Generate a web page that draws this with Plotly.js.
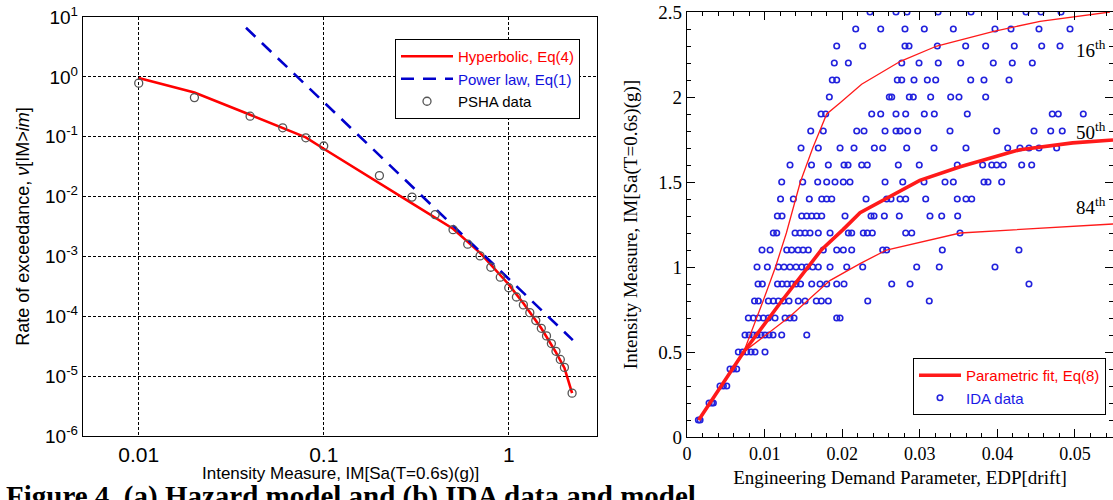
<!DOCTYPE html>
<html>
<head>
<meta charset="utf-8">
<script src="https://cdn.plot.ly/plotly-3.0.1.min.js"></script>
<style>html,body{margin:0;padding:0;background:#fff;}#chart{width:1113px;height:500px;}</style>
</head>
<body>
<div id="chart"></div>
<script>
// ---------- (a) Hazard model ----------
const hypX = [0.01, 0.02, 0.04, 0.06, 0.08, 0.1, 0.2, 0.3, 0.5, 0.7, 1.0, 1.2, 1.5, 1.8, 2.0, 2.2];
const hypY = [0.96, 0.548, 0.233, 0.139, 0.0975, 0.063, 0.0164, 0.0077, 0.0029, 0.00115, 0.00034, 0.000165, 0.000063, 0.000025, 0.0000137, 0.0000052];
const powX = [0.038, 2.22];
const powY = [6.6, 0.00004];
const pshaX = [0.01, 0.02, 0.04, 0.06, 0.08, 0.1, 0.2, 0.3, 0.4, 0.5, 0.6, 0.7, 0.8, 0.9, 1.0, 1.1, 1.2, 1.3, 1.4, 1.5, 1.6, 1.7, 1.8, 1.9, 2.0, 2.2];
const pshaY = [0.785, 0.45, 0.22, 0.141, 0.096, 0.07, 0.0224, 0.0098, 0.005, 0.0028, 0.0016, 0.00102, 0.00066, 0.00045, 0.0003, 0.00021, 0.000155, 0.000115, 0.000085, 0.000063, 0.000047, 0.000035, 0.000026, 0.000019, 0.000014, 0.0000052];
const hazXTicks = [0.01, 0.1, 1];
const hazXTickText = ['0.01', '0.1', '1'];
const hazYTicks = [1e-6, 1e-5, 1e-4, 1e-3, 1e-2, 1e-1, 1, 10];
const hazYTickText = ['10<sup>-6</sup>', '10<sup>-5</sup>', '10<sup>-4</sup>', '10<sup>-3</sup>', '10<sup>-2</sup>', '10<sup>-1</sup>', '10<sup>0</sup>', '10<sup>1</sup>'];

// ---------- (b) IDA data and model ----------
const idaIM = [0.1, 0.2, 0.3, 0.4, 0.5, 0.6, 0.7, 0.8, 0.9, 1.0, 1.1, 1.2, 1.3, 1.4, 1.5, 1.6, 1.7, 1.8, 1.9, 2.0, 2.1, 2.2, 2.3, 2.4, 2.5];
const idaEDP = [
  [0.00146, 0.00168],
  [0.00284, 0.00318, 0.00339],
  [0.00425, 0.00468, 0.00512],
  [0.00554, 0.00597, 0.0064],
  [0.00661, 0.00715, 0.00769, 0.00825, 0.00876, 0.01005],
  [0.00747, 0.00799, 0.00851, 0.00902, 0.00954, 0.01005, 0.01057, 0.01108, 0.0122, 0.01543],
  [0.0079, 0.00854, 0.00919, 0.00983, 0.01048, 0.01134, 0.01263, 0.01327, 0.01379, 0.01929, 0.01972],
  [0.0087, 0.00919, 0.01048, 0.01112, 0.01177, 0.01241, 0.01314, 0.01434, 0.01521, 0.01666, 0.01731, 0.01821, 0.02329, 0.03122],
  [0.00915, 0.0097, 0.01166, 0.01224, 0.01289, 0.01353, 0.01405, 0.01463, 0.01607, 0.01714, 0.018, 0.01929, 0.02023, 0.02638, 0.02874, 0.04407],
  [0.00902, 0.01035, 0.01177, 0.0125, 0.01327, 0.01405, 0.01478, 0.01543, 0.0162, 0.01692, 0.01843, 0.02058, 0.02264, 0.0296, 0.03251, 0.03969],
  [0.00966, 0.0107, 0.01285, 0.01349, 0.0143, 0.01495, 0.01563, 0.01756, 0.01929, 0.02014, 0.02122, 0.02522, 0.02573, 0.0329, 0.04278],
  [0.01112, 0.01156, 0.01392, 0.01456, 0.01521, 0.01585, 0.01692, 0.01843, 0.02079, 0.02122, 0.02272, 0.02323, 0.02388, 0.02818, 0.02896, 0.03518],
  [0.01164, 0.01224, 0.01478, 0.01543, 0.01607, 0.01671, 0.01736, 0.02036, 0.02371, 0.0241, 0.02543, 0.02736, 0.03131, 0.03282, 0.03488],
  [0.01205, 0.0137, 0.01576, 0.01736, 0.018, 0.01865, 0.02307, 0.02573, 0.02629, 0.02745, 0.02818, 0.03076, 0.03483, 0.03595, 0.03669],
  [0.0122, 0.01491, 0.01684, 0.018, 0.01907, 0.02014, 0.021, 0.02552, 0.0278, 0.03054, 0.03325, 0.03432, 0.03827, 0.03879, 0.04055],
  [0.01327, 0.01604, 0.01821, 0.02023, 0.02075, 0.02251, 0.02323, 0.02723, 0.02993, 0.03483, 0.0381, 0.03927, 0.03991, 0.04076, 0.04313, 0.04442],
  [0.01469, 0.01692, 0.01972, 0.02152, 0.02414, 0.02522, 0.02831, 0.03183, 0.03595, 0.04133, 0.04291, 0.04407, 0.04536, 0.04764],
  [0.01594, 0.01756, 0.02187, 0.02281, 0.02552, 0.02693, 0.02745, 0.02844, 0.02973, 0.03389, 0.03991, 0.04472, 0.04687, 0.04836],
  [0.01727, 0.01787, 0.0238, 0.02496, 0.02693, 0.02818, 0.03058, 0.03187, 0.03612, 0.04707, 0.04785, 0.05107],
  [0.01834, 0.02607, 0.02638, 0.02865, 0.02916, 0.0314, 0.03398, 0.03505, 0.03849],
  [0.01872, 0.01929, 0.0271, 0.02767, 0.02925, 0.03097, 0.03205, 0.03656, 0.03827, 0.0415],
  [0.01898, 0.02079, 0.02767, 0.0299, 0.03238, 0.03527, 0.03947, 0.04192, 0.0445],
  [0.01929, 0.02264, 0.02809, 0.02861, 0.03226, 0.03591, 0.03849, 0.04218, 0.04571, 0.04807],
  [0.02174, 0.02496, 0.02809, 0.03058, 0.03432, 0.03969, 0.04175, 0.04536, 0.04936],
  [0.02358, 0.02693, 0.02835, 0.03235, 0.0366, 0.04369, 0.04562, 0.0482]
];
const p16X = [0.0015, 0.0073, 0.0098, 0.0114, 0.0128, 0.0146, 0.0162, 0.018, 0.0197, 0.0225, 0.0275, 0.0322, 0.0394, 0.0455, 0.0545];
const p16Y = [0.1, 0.5, 0.8, 1.0, 1.2, 1.5, 1.7, 1.9, 1.965, 2.075, 2.21, 2.3, 2.385, 2.445, 2.5];
const p50X = [0.0015, 0.0073, 0.0122, 0.0156, 0.0173, 0.0201, 0.0223, 0.03, 0.0352, 0.0429, 0.0497, 0.0549];
const p50Y = [0.1, 0.5, 0.8, 1.0, 1.1, 1.22, 1.32, 1.51, 1.59, 1.69, 1.73, 1.747];
const p84X = [0.0015, 0.0073, 0.0133, 0.0184, 0.0223, 0.0257, 0.0352, 0.0549];
const p84Y = [0.1, 0.5, 0.71, 0.92, 1.02, 1.1, 1.2, 1.253];
const pctLabels = ['16<sup>th</sup>', '50<sup>th</sup>', '84<sup>th</sup>'];
const pctLabelX = [0.05206, 0.05206, 0.05206];
const pctLabelY = [2.28, 1.80, 1.36];

// flatten IDA rows
const idaX = [], idaY = [];
idaEDP.forEach((row, i) => row.forEach(v => { idaX.push(v); idaY.push(idaIM[i]); }));

const sans = 'Liberation Sans, Arial, sans-serif';
const serif = 'Liberation Serif, Times New Roman, serif';

const traces = [
  {x: hypX, y: hypY, xaxis: 'x', yaxis: 'y', mode: 'lines', legend: 'legend', legendrank: 1,
   name: '<span style="color:#ff0000">Hyperbolic, Eq(4)</span>', line: {color: '#ff0000', width: 2.6}},
  {x: powX, y: powY, xaxis: 'x', yaxis: 'y', mode: 'lines', legend: 'legend', legendrank: 2,
   name: '<span style="color:#1010dd">Power law, Eq(1)</span>', line: {color: '#0000cc', width: 2.6, dash: '13px,9px'}},
  {x: pshaX, y: pshaY, xaxis: 'x', yaxis: 'y', mode: 'markers', legend: 'legend', legendrank: 3,
   name: 'PSHA data', marker: {symbol: 'circle-open', size: 8, color: '#555555', line: {width: 1.3, color: '#555555'}}},
  {x: idaX, y: idaY, xaxis: 'x2', yaxis: 'y2', mode: 'markers', legend: 'legend2', legendrank: 2,
   name: '<span style="color:#1a1ae6">IDA data</span>', marker: {symbol: 'circle-open', size: 5.5, color: '#2222dd', line: {width: 1.6, color: '#2222dd'}}},
  {x: p16X, y: p16Y, xaxis: 'x2', yaxis: 'y2', mode: 'lines', showlegend: false, name: '16th',
   line: {color: '#ff1a1a', width: 1.3}},
  {x: p84X, y: p84Y, xaxis: 'x2', yaxis: 'y2', mode: 'lines', showlegend: false, name: '84th',
   line: {color: '#ff1a1a', width: 1.3}},
  {x: p50X, y: p50Y, xaxis: 'x2', yaxis: 'y2', mode: 'lines', legend: 'legend2', legendrank: 1,
   name: '<span style="color:#ff0000">Parametric fit, Eq(8)</span>', line: {color: '#ff1a1a', width: 3.6}}
];

const annotations = pctLabels.map((t, i) => ({
  text: t, x: pctLabelX[i], y: pctLabelY[i], xref: 'x2', yref: 'y2', showarrow: false,
  font: {family: serif, size: 19, color: '#000'}
}));
// x-axis title of panel (a)
annotations.push({
  text: 'Intensity Measure, IM[Sa(T=0.6s)(g)]',
  xref: 'x domain', yref: 'paper', x: 0.5, y: 0.053, xanchor: 'center', yanchor: 'middle', showarrow: false,
  font: {family: sans, size: 17, color: '#000'}
});
// figure caption (cut by the bottom edge, as in the source)
annotations.push({
  text: '<b>Figure 4. (a) Hazard model and (b) IDA data and model</b>',
  xref: 'paper', yref: 'paper', x: 0.004, y: 0.044, xanchor: 'left', yanchor: 'top', showarrow: false,
  font: {family: serif, size: 29, color: '#000'}
});

const layout = {
  width: 1113, height: 500,
  margin: {l: 0, r: 0, t: 0, b: 0},
  paper_bgcolor: '#ffffff', plot_bgcolor: '#ffffff',
  showlegend: true,
  xaxis: {
    type: 'log', domain: [0.0746, 0.5364], range: [Math.log10(0.005), Math.log10(3)], anchor: 'y',
    tickvals: hazXTicks, ticktext: hazXTickText, ticks: '',
    showgrid: true, gridcolor: '#000', gridwidth: 1, griddash: '3px,2px',
    showline: true, mirror: true, linecolor: '#000', linewidth: 1.2, zeroline: false,
    tickfont: {family: sans, size: 21, color: '#000'}
  },
  yaxis: {
    type: 'log', domain: [0.128, 0.966], range: [-6, 1], anchor: 'x',
    tickvals: hazYTicks, ticktext: hazYTickText, ticks: '',
    showgrid: true, gridcolor: '#000', gridwidth: 1, griddash: '3px,2px',
    showline: true, mirror: true, linecolor: '#000', linewidth: 1.2, zeroline: false,
    tickfont: {family: sans, size: 19, color: '#000'},
    title: {text: 'Rate of exceedance, <i>ν</i>[IM&gt;<i>im</i>]', font: {family: sans, size: 18, color: '#000'}, standoff: 10}
  },
  xaxis2: {
    domain: [0.6173, 1], range: [0, 0.0549], anchor: 'y2',
    tick0: 0, dtick: 0.01, ticks: 'inside', ticklen: 8, tickwidth: 1, tickcolor: '#000',
    minor: {ticks: 'inside', ticklen: 4, tick0: 0, dtick: 0.002, tickcolor: '#000', showgrid: false},
    showgrid: false, zeroline: false, showline: true, mirror: 'ticks', linecolor: '#000', linewidth: 1.2,
    tickfont: {family: serif, size: 18, color: '#000'},
    title: {text: 'Engineering Demand Parameter, EDP[drift]', font: {family: serif, size: 19, color: '#000'}, standoff: 8}
  },
  yaxis2: {
    domain: [0.126, 0.976], range: [0, 2.5], anchor: 'x2',
    tick0: 0, dtick: 0.5, ticks: 'inside', ticklen: 8, tickwidth: 1, tickcolor: '#000',
    minor: {ticks: 'inside', ticklen: 4, tick0: 0, dtick: 0.1, tickcolor: '#000', showgrid: false},
    showgrid: false, zeroline: false, showline: true, mirror: 'ticks', linecolor: '#000', linewidth: 1.2,
    tickfont: {family: serif, size: 19, color: '#000'},
    title: {text: 'Intensity Measure, IM[Sa(T=0.6s)(g)]', font: {family: serif, size: 19, color: '#000'}, standoff: 15}
  },
  legend: {
    x: 0.3549, y: 0.922, xanchor: 'left', yanchor: 'top', itemwidth: 52,
    bgcolor: '#ffffff', bordercolor: '#000', borderwidth: 1,
    font: {family: sans, size: 15, color: '#000'}, tracegroupgap: 0
  },
  legend2: {
    x: 0.8203, y: 0.284, xanchor: 'left', yanchor: 'top', itemwidth: 42,
    bgcolor: '#ffffff', bordercolor: '#000', borderwidth: 1,
    font: {family: sans, size: 15, color: '#000'}, tracegroupgap: 0
  },
  annotations: annotations
};

Plotly.newPlot('chart', traces, layout, {displayModeBar: false, staticPlot: true});
</script>
</body>
</html>
